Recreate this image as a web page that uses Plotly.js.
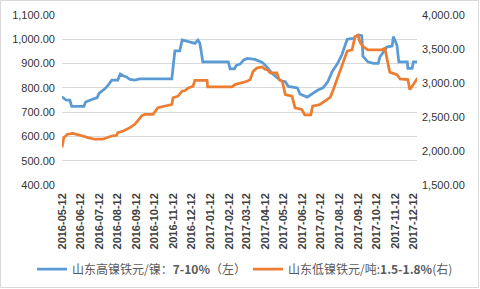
<!DOCTYPE html>
<html>
<head>
<meta charset="utf-8">
<script src="https://cdn.plot.ly/plotly-3.0.1.min.js"></script>
<style>
html,body{margin:0;padding:0;background:#fff;}
#chart{width:480px;height:289px;}
</style>
</head>
<body>
<div id="chart"></div>
<script>
// Tick categories (monthly)
const tickDates = ['2016-05-12','2016-06-12','2016-07-12','2016-08-12','2016-09-12','2016-10-12','2016-11-12','2016-12-12',
  '2017-01-12','2017-02-12','2017-03-12','2017-04-12','2017-05-12','2017-06-12','2017-07-12','2017-08-12','2017-09-12',
  '2017-10-12','2017-11-12','2017-12-12'];
const tickLabels = tickDates.slice();

// 山东高镍铁 元/镍 7-10% (left axis)
const highNiDates = ['2016-05-12','2016-05-19','2016-05-25','2016-05-28','2016-06-17','2016-06-20','2016-06-27','2016-07-05',
  '2016-07-09','2016-07-12','2016-07-22','2016-07-27','2016-08-02','2016-08-12','2016-08-16','2016-08-21','2016-08-26',
  '2016-09-01','2016-09-09','2016-09-17','2016-11-09','2016-11-14','2016-11-22','2016-11-26','2016-12-09','2016-12-17',
  '2016-12-22','2016-12-25','2016-12-27','2016-12-30','2017-02-10','2017-02-13','2017-02-20','2017-02-23','2017-03-02',
  '2017-03-07','2017-03-13','2017-03-26','2017-04-07','2017-04-15','2017-04-23','2017-04-28','2017-05-07','2017-05-15',
  '2017-05-20','2017-06-04','2017-06-08','2017-06-20','2017-06-25','2017-06-28','2017-07-07','2017-07-16','2017-07-24',
  '2017-07-31','2017-08-09','2017-08-16','2017-08-25','2017-09-04','2017-09-12','2017-09-18','2017-09-20','2017-09-28',
  '2017-10-07','2017-10-15','2017-10-18','2017-10-30','2017-11-07','2017-11-09','2017-11-15','2017-11-18','2017-12-02',
  '2017-12-03','2017-12-10','2017-12-12','2017-12-18'];
const highNiValues = [763,749,749,724,724,742,749,755,
  760,777,797,811,832,832,857,850,845,
  835,832,837,837,952,952,997,990,983,
  997,985,956,907,907,878,878,892,899,
  914,921,917,905,885,860,850,830,825,
  806,800,775,762,770,777,790,800,825,
  866,900,935,1000,1004,1018,1015,930,907,
  901,901,928,969,972,1011,976,907,907,
  880,880,907,907];

// 山东低镍铁 元/吨 1.5-1.8% (right axis)
const lowNiDates = ['2016-05-12','2016-05-15','2016-05-18','2016-05-21','2016-05-30','2016-06-07','2016-06-15','2016-06-24',
  '2016-07-05','2016-07-18','2016-07-25','2016-08-02','2016-08-10','2016-08-12','2016-08-21','2016-08-27','2016-09-01',
  '2016-09-09','2016-09-14','2016-09-21','2016-09-26','2016-10-09','2016-10-17','2016-11-01','2016-11-09','2016-11-11',
  '2016-11-19','2016-11-26','2016-12-01','2016-12-06','2016-12-14','2016-12-17','2017-01-06','2017-01-07','2017-02-16',
  '2017-02-21','2017-03-05','2017-03-13','2017-03-18','2017-03-23','2017-03-29','2017-04-07','2017-04-11','2017-04-16',
  '2017-04-20','2017-05-01','2017-05-05','2017-05-10','2017-05-15','2017-05-26','2017-05-31','2017-06-11','2017-06-16',
  '2017-06-26','2017-06-29','2017-07-11','2017-07-19','2017-07-28','2017-08-02','2017-08-08','2017-08-13','2017-08-18',
  '2017-08-25','2017-09-02','2017-09-07','2017-09-12','2017-09-15','2017-09-20','2017-09-28','2017-10-21','2017-10-26',
  '2017-10-31','2017-11-03','2017-11-15','2017-11-20','2017-12-03','2017-12-06','2017-12-12','2017-12-17','2017-12-19'];
const lowNiValues = [2051,2200,2221,2246,2260,2246,2221,2197,
  2173,2173,2197,2221,2231,2270,2294,2319,2343,
  2392,2440,2523,2538,2538,2636,2660,2684,2782,
  2806,2879,2890,2928,2952,3040,3040,2943,2943,
  2977,3001,3025,3050,3171,3220,3235,3206,3190,
  3148,3148,3050,3025,2830,2806,2636,2611,2530,
  2530,2660,2684,2733,2790,2900,3050,3196,3300,
  3470,3488,3683,3700,3600,3537,3488,3488,3510,
  3294,3160,3123,3060,3050,2903,2977,3050,3075];

const seriesNames = ['山东高镍铁元/镍：<b>7-10%</b>（左）', '山东低镍铁元/吨:<b>1.5-1.8%</b>(右)'];

const fontFam = '"Liberation Sans", "Noto Sans CJK SC", sans-serif';
const legFont = {size: 12, color: '#595959', family: '"Noto Sans CJK SC", "Liberation Sans", sans-serif'};

const traces = [
  {x: highNiDates, y: highNiValues, name: seriesNames[0], type: 'scatter', mode: 'lines',
   line: {color: '#5B9BD5', width: 2.75}, yaxis: 'y', legend: 'legend'},
  {x: lowNiDates, y: lowNiValues, name: seriesNames[1], type: 'scatter', mode: 'lines',
   line: {color: '#ED7D31', width: 2.75}, yaxis: 'y2', legend: 'legend2'}
];

const layout = {
  width: 480, height: 289,
  margin: {l: 62, r: 63, t: 15, b: 104},
  paper_bgcolor: '#fff', plot_bgcolor: '#fff',
  showlegend: true,
  font: {family: fontFam, color: '#404040', size: 11},
  xaxis: {
    type: 'date', range: ['2016-05-12', '2017-12-18'],
    tickmode: 'array', tickvals: tickDates, ticktext: tickLabels,
    tickangle: -90, tickfont: {size: 11, weight: 'bold', color: '#404040', family: fontFam},
    showgrid: false, zeroline: false, showline: false, ticks: '', ticklabelstandoff: 5
  },
  yaxis: {
    range: [400, 1100], dtick: 100, tick0: 400, tickformat: ',.2f',
    showgrid: true, gridcolor: '#D9D9D9', gridwidth: 1, zeroline: false, showline: false,
    tickfont: {size: 11, color: '#333333'}, ticks: '', ticklabelstandoff: 6
  },
  yaxis2: {
    range: [1500, 4000], dtick: 500, tick0: 1500, tickformat: ',.2f',
    overlaying: 'y', side: 'right', showgrid: false, zeroline: false, showline: false,
    tickfont: {size: 11, color: '#333333'}, ticks: '', ticklabelstandoff: 4
  },
  legend: {
    orientation: 'h', xref: 'container', yref: 'container',
    x: 32 / 480, xanchor: 'left', y: 1 - 269 / 289, yanchor: 'middle',
    font: legFont, bgcolor: 'rgba(0,0,0,0)', itemwidth: 30
  },
  legend2: {
    orientation: 'h', xref: 'container', yref: 'container',
    x: 248 / 480, xanchor: 'left', y: 1 - 269 / 289, yanchor: 'middle',
    font: legFont, bgcolor: 'rgba(0,0,0,0)', itemwidth: 30
  },
  shapes: [{
    type: 'rect', xref: 'paper', yref: 'paper',
    x0: (0.5 - 62) / 355, x1: (478.5 - 62) / 355,
    y0: (185 - 287.5) / 170, y1: (185 - 0.5) / 170,
    line: {color: '#D9D9D9', width: 1}, fillcolor: 'rgba(0,0,0,0)'
  }]
};

Plotly.newPlot('chart', traces, layout, {displayModeBar: false, staticPlot: true});
</script>
</body>
</html>
